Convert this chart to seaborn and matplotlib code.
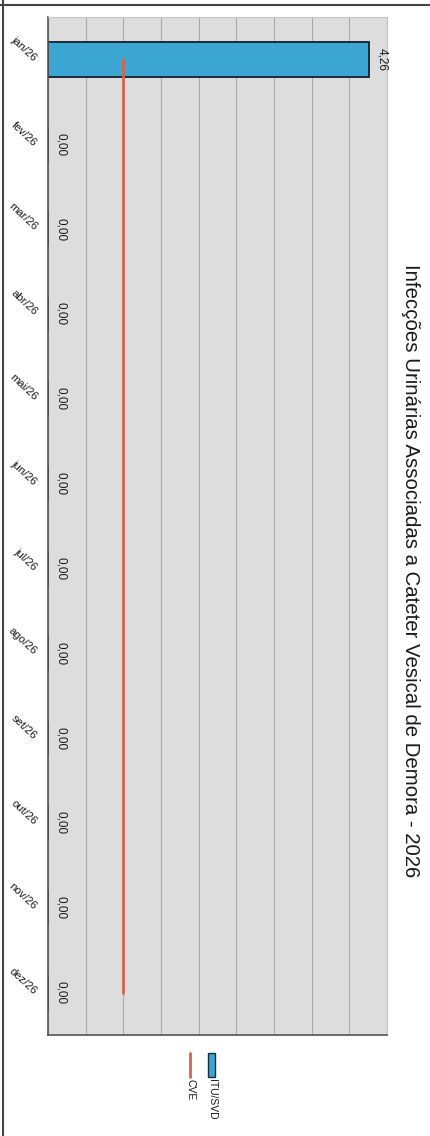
import matplotlib
matplotlib.use("Agg")
import matplotlib.pyplot as plt
import seaborn as sns
import numpy as np
from matplotlib.patches import Rectangle
from matplotlib.lines import Line2D

months = ['jan/26', 'fev/26', 'mar/26', 'abr/26', 'mai/26', 'jun/26',
          'jul/26', 'ago/26', 'set/26', 'out/26', 'nov/26', 'dez/26']
itu_svd = [4.26, 0.00, 0.00, 0.00, 0.00, 0.00, 0.00, 0.00, 0.00, 0.00, 0.00, 0.00]
cve = [1.0] * 12
title = 'Infecções Urinárias Associadas a Cateter Vesical de Demora - 2026'

sns.set_style("white")
plt.rcParams['font.family'] = ['Liberation Sans', 'DejaVu Sans']
plt.rcParams['text.color'] = '#1a1a1a'
plt.rcParams['ytick.color'] = '#1a1a1a'

bar_color = '#3ba6d2'
line_color = '#d2654d'

fig = plt.figure(figsize=(4.30, 11.36), dpi=100)
ax = fig.add_axes([48/430, 1 - 1035/1136, 339/430, 1018/1136])
ax.set_facecolor('#dddddd')

sns.barplot(x=itu_svd, y=months, orient='h', color=bar_color,
            edgecolor='#1c2b3a', linewidth=1.4, width=0.41, saturation=1, ax=ax)
sns.lineplot(x=cve, y=np.arange(len(months)), orient='y', sort=False,
             color=line_color, linewidth=2, ax=ax)

ax.set_xlim(0, 4.5)
ax.set_ylim(len(months) - 0.5, -0.5)
ax.set_xticks(np.arange(0, 4.51, 0.5))
ax.xaxis.grid(True, color='#aaaaaa', linewidth=0.8)
ax.yaxis.grid(False)
ax.set_axisbelow(True)
ax.tick_params(axis='x', length=0, labelbottom=False)
ax.tick_params(axis='y', length=0, pad=9)
ax.set_xlabel('')
ax.set_ylabel('')
ax.set_yticks(range(len(months)))
ax.set_yticklabels(months, rotation=-43, ha='right', va='center',
                   rotation_mode='anchor', fontsize=8)

for s in ['top', 'right']:
    ax.spines[s].set_color('#c4c4c4')
    ax.spines[s].set_linewidth(0.8)
for s in ['left', 'bottom']:
    ax.spines[s].set_color('#555555')
    ax.spines[s].set_linewidth(1.2)

labels = [f"{v:.2f}".replace('.', ',') for v in itu_svd]
ax.bar_label(ax.containers[0], labels=labels, rotation=-90, padding=5, fontsize=8.5)

# title, rotated with the page
fig.text(410/430, 1 - 571/1136, title, rotation=-90, ha='center', va='center', fontsize=14.7)

# legend drawn by hand (rotated page)
fig.add_artist(Rectangle((208/430, 1 - 1077/1136), 7/430, 24/1136,
                         transform=fig.transFigure, facecolor=bar_color,
                         edgecolor='#1c2b3a', linewidth=1))
fig.text(211.5/430, 1 - 1079/1136, 'ITU/SVD', rotation=-90, ha='center', va='top', fontsize=7.5)
fig.add_artist(Line2D([190/430, 190/430], [1 - 1053/1136, 1 - 1077/1136],
                      transform=fig.transFigure, color=line_color, linewidth=2))
fig.text(190/430, 1 - 1079/1136, 'CVE', rotation=-90, ha='center', va='top', fontsize=7.5)

# page frame
fig.add_artist(Line2D([0, 1], [1 - 4.5/1136, 1 - 4.5/1136], transform=fig.transFigure,
                      color='#444444', linewidth=1.5))
fig.add_artist(Line2D([3/430, 3/430], [0, 1], transform=fig.transFigure,
                      color='#444444', linewidth=1.5))

fig.savefig('out.png', dpi=100)
